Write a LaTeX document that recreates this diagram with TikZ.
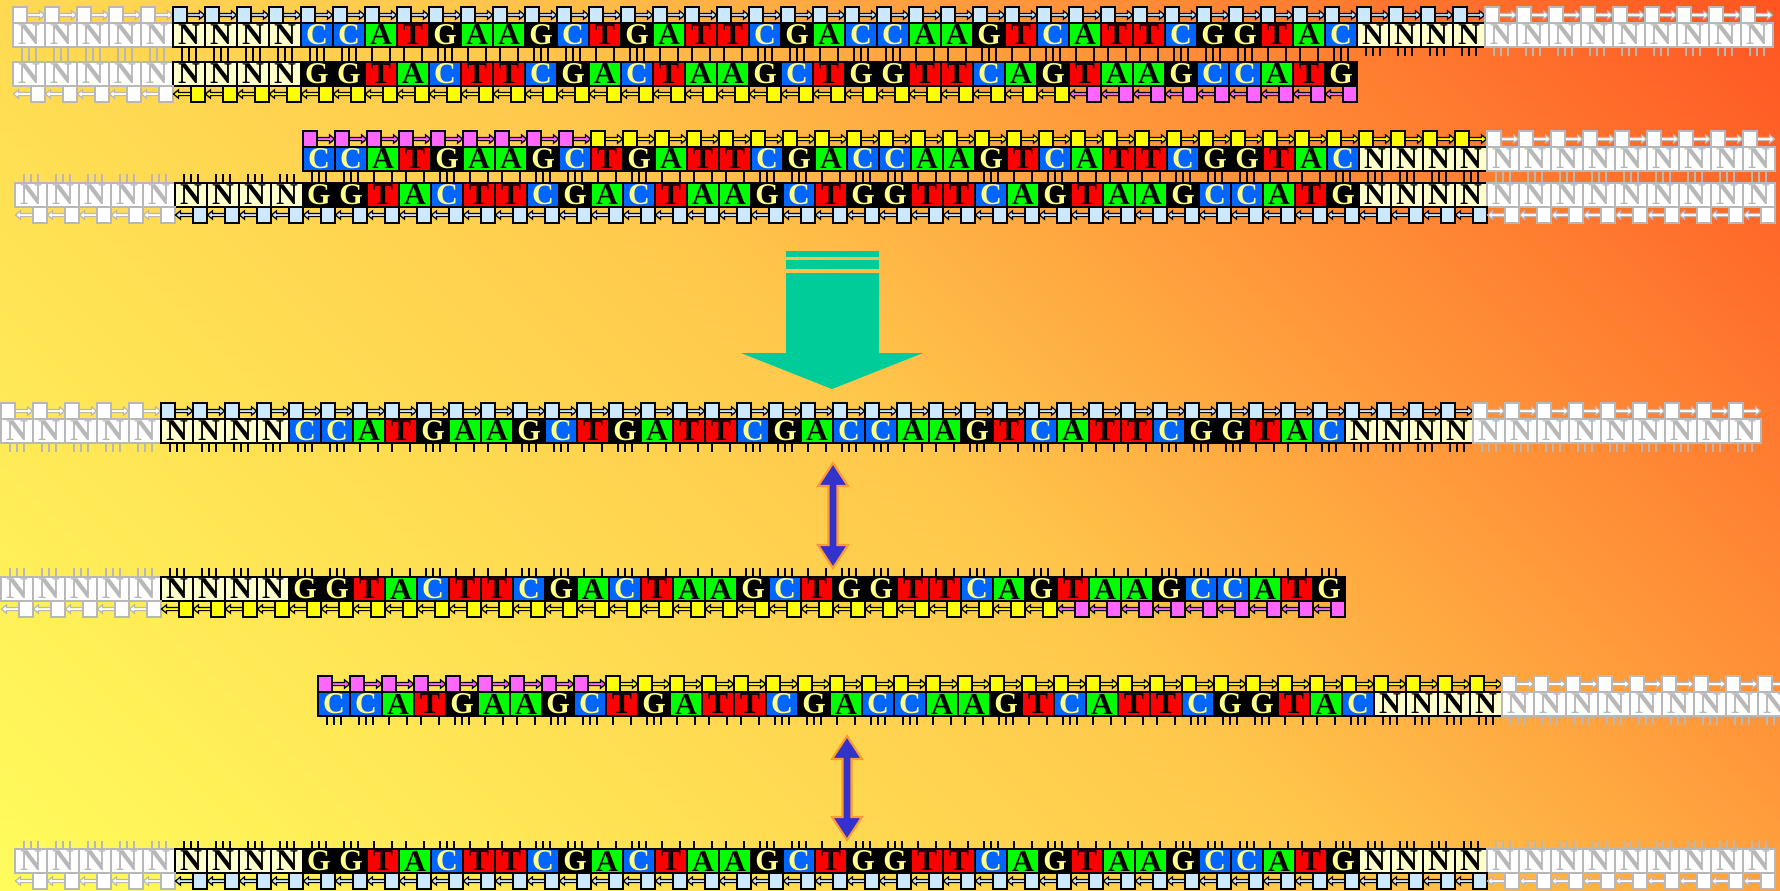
\documentclass[tikz,border=0pt]{standalone}
\usepackage{fontspec}
\setmainfont{Liberation Serif}
\usetikzlibrary{calc}

% Farben
\definecolor{bgY}{RGB}{255,252,92}
\definecolor{bgM}{RGB}{255,200,76}
\definecolor{bgR}{RGB}{255,85,34}
\definecolor{fillA}{RGB}{0,255,0}     \definecolor{inkA}{RGB}{0,0,0}       \definecolor{lineA}{RGB}{0,0,0}
\definecolor{fillT}{RGB}{255,0,0}     \definecolor{inkT}{RGB}{0,0,0}       \definecolor{lineT}{RGB}{0,0,0}
\definecolor{fillC}{RGB}{0,102,255}   \definecolor{inkC}{RGB}{255,255,136} \definecolor{lineC}{RGB}{0,0,0}
\definecolor{fillG}{RGB}{0,0,0}       \definecolor{inkG}{RGB}{255,255,136} \definecolor{lineG}{RGB}{0,0,0}
\definecolor{fillN}{RGB}{255,255,204} \definecolor{inkN}{RGB}{0,0,0}       \definecolor{lineN}{RGB}{0,0,0}
\definecolor{fillx}{RGB}{255,255,255} \definecolor{inkx}{RGB}{184,184,184} \definecolor{linex}{RGB}{184,184,184}
\definecolor{bbBlue}{RGB}{204,232,255}
\definecolor{bbYel}{RGB}{255,255,0}
\definecolor{bbPink}{RGB}{255,102,255}
\definecolor{arrTeal}{RGB}{0,204,153}
\definecolor{arrBlue}{RGB}{51,51,204}
\definecolor{arrRim}{RGB}{255,153,51}

\pgfdeclarehorizontalshading{bgdiag}{100bp}{color(0bp)=(bgY); color(14.64bp)=(bgY); color(50bp)=(bgM); color(85.36bp)=(bgR); color(100bp)=(bgR)}

\tikzset{
  cell/.style={draw=line#1, fill=fill#1, text=ink#1, line width=0.6pt,
    minimum width=3.2mm, minimum height=2.4mm, inner sep=0pt, outer sep=0pt,
    font=\bfseries\fontsize{8.6}{9}\selectfont},
  bbbox/.style={line width=0.5pt},
  bbarrow/.style={line width=0.35pt},
  bb blue/.style={fill=bbBlue, draw=black},
  bb yel/.style={fill=bbYel, draw=black},
  bb pink/.style={fill=bbPink, draw=black},
  bb ghost/.style={fill=white, draw=linex},
  hbond/.style={line width=0.6pt},
  dblarr/.style={fill=arrBlue, draw=arrRim, line width=0.6pt},
  bigarr/.style={fill=arrTeal},
}

\begin{document}
\begin{tikzpicture}[x=0.1mm,y=-0.1mm]

% ---------- Parameter ----------
\def\cw{32}   % Zellbreite
\def\ch{24}   % Zellhoehe

\def\seqTop{C,C,A,T,G,A,A,G,C,T,G,A,T,T,C,G,A,C,C,A,A,G,T,C,A,T,T,C,G,G,T,A,C}
\def\seqBot{G,G,T,A,C,T,T,C,G,A,C,T,A,A,G,C,T,G,G,T,T,C,A,G,T,A,A,G,C,C,A,T,G}
\def\ghostL{x,x,x,x,x}
\def\ghostR{x,x,x,x,x,x,x,x,x}
\edef\fullTop{\ghostL,N,N,N,N,\seqTop,N,N,N,N,\ghostR}
\edef\fullBot{\ghostL,N,N,N,N,\seqBot,N,N,N,N,\ghostR}
\edef\cutBot{\ghostL,N,N,N,N,\seqBot}
\edef\primed{\seqTop,N,N,N,N,\ghostR}
\edef\leftBot{\ghostL,N,N,N,N}
\edef\rightTop{N,N,N,N,\ghostR}

% Wasserstoffbruecken: Positionen in der Zelle
\def\hbA{7,25} \def\hbT{7,25}
\def\hbC{9,16,23} \def\hbG{9,16,23} \def\hbN{9,16,23} \def\hbx{9,16,23}

% ---------- Makros ----------
\def\strand#1#2#3#4#5{% Name, x0, Oberkante, erster Index, Liste
  \foreach \nt [count=\i from #4] in #5
    \node[cell=\nt] (#1-\i) at ({#2+(\i+0.5)*\cw},{#3+\ch/2}) {\if x\nt N\else\nt\fi};
}
\def\hbpair#1#2#3#4{% oben, unten, erster Index, Liste
  \foreach \nt [count=\i from #3] in #4 {
    \edef\tpos{\csname hb\nt\endcsname}
    \foreach \tk in \tpos
      \draw[hbond, draw=line\nt] ($(#1-\i.south west)+(\tk,0)$) -- ($(#2-\i.north west)+(\tk,0)$);
  }
}
\def\hbend#1#2#3#4#5{% Reihe, erster Index, Liste, Anker, Laenge
  \foreach \nt [count=\i from #2] in #3 {
    \edef\tpos{\csname hb\nt\endcsname}
    \foreach \tk in \tpos
      \draw[hbond, draw=line\nt] ($(#1-\i.#4)+(\tk,0)$) -- ++(0,#5);
  }
}
\def\fwdbb#1#2#3#4{% Rueckgrat 5'->3'
  \foreach \i in {#2,...,#3} {
    \filldraw[bbarrow, #4] ($(#1-\i.north west)+(14,-8)$) ++(0,-1.6) -- ++(12.5,0) -- ++(0,-2.6)
      -- ++(5,4.2) -- ++(-5,4.2) -- ++(0,-2.6) -- ++(-12.5,0) -- cycle;
    \filldraw[bbbox, #4] (#1-\i.north west) rectangle ++(14,-16);
  }
}
\def\revbb#1#2#3#4{% Rueckgrat 3'<-5'
  \foreach \i in {#2,...,#3} {
    \filldraw[bbarrow, #4] ($(#1-\i.south east)+(-14,8)$) ++(0,-1.6) -- ++(-12.5,0) -- ++(0,-2.6)
      -- ++(-5,4.2) -- ++(5,4.2) -- ++(0,-2.6) -- ++(12.5,0) -- cycle;
    \filldraw[bbbox, #4] (#1-\i.south east) rectangle ++(-14,16);
  }
}
\def\dblarrow#1#2{%
  \filldraw[dblarr] (#1) -- ++(15,23) -- ++(-10.5,0) -- ($(#2)+(4.5,-23)$) -- ++(10.5,0)
    -- (#2) -- ++(-15,-23) -- ++(10.5,0) -- ($(#1)+(-4.5,23)$) -- ++(-10.5,0) -- cycle;
}

% Hintergrund
\useasboundingbox (0,0) rectangle (1780,890);
\clip (0,0) rectangle (1780,890);
\shade[shading=bgdiag, shading angle=45] (0,0) rectangle (1780,890);

% ===================
% oben: Doppelstrang 1
% ===================
\strand{r1}{13}{23}{0}{\fullTop}
\strand{r2}{13}{62}{0}{\cutBot}
\hbpair{r1}{r2}{0}{\cutBot}
\hbend{r1}{42}{\rightTop}{south west}{9}
\fwdbb{r1}{0}{4}{bb ghost}
\fwdbb{r1}{5}{45}{bb blue}
\fwdbb{r1}{46}{54}{bb ghost}
\revbb{r2}{0}{4}{bb ghost}
\revbb{r2}{5}{32}{bb yel}
\revbb{r2}{33}{41}{bb pink}

% ===================
% Doppelstrang 2
% ===================
\strand{r3}{15}{147}{9}{\primed}
\strand{r4}{15}{183}{0}{\fullBot}
\hbpair{r3}{r4}{9}{\primed}
\hbend{r4}{0}{\leftBot}{north west}{-9}
\fwdbb{r3}{9}{17}{bb pink}
\fwdbb{r3}{18}{45}{bb yel}
\fwdbb{r3}{46}{54}{bb ghost}
\revbb{r4}{0}{4}{bb ghost}
\revbb{r4}{5}{45}{bb blue}
\revbb{r4}{46}{54}{bb ghost}

% Pfeil nach unten
\fill[bigarr] (786,251) rectangle (879,257);
\fill[bigarr] (786,260) rectangle (879,269);
\fill[bigarr] (786,273) -- (879,273) -- (879,353) -- (923,353) -- (832,389)
  -- (741,353) -- (786,353) -- cycle;

% ===================
% Einzelstraenge
% ===================
\strand{r5}{1}{419}{0}{\fullTop}
\hbend{r5}{0}{\fullTop}{south west}{9}
\fwdbb{r5}{0}{4}{bb ghost}
\fwdbb{r5}{5}{45}{bb blue}
\fwdbb{r5}{46}{54}{bb ghost}

\strand{r6}{1}{577}{0}{\cutBot}
\hbend{r6}{0}{\cutBot}{north west}{-9}
\revbb{r6}{0}{4}{bb ghost}
\revbb{r6}{5}{32}{bb yel}
\revbb{r6}{33}{41}{bb pink}

\strand{r7}{30}{692}{9}{\primed}
\hbend{r7}{9}{\primed}{south west}{9}
\fwdbb{r7}{9}{17}{bb pink}
\fwdbb{r7}{18}{45}{bb yel}
\fwdbb{r7}{46}{54}{bb ghost}

\strand{r8}{15}{849}{0}{\fullBot}
\hbend{r8}{0}{\fullBot}{north west}{-8}
\revbb{r8}{0}{4}{bb ghost}
\revbb{r8}{5}{45}{bb blue}
\revbb{r8}{46}{54}{bb ghost}

% Doppelpfeile
\coordinate (pfeil1u) at ($(r6-26.north west)+(0,-9)$);
\coordinate (pfeil1o) at ($(pfeil1u |- r5-26.south)+(0,20)$);
\dblarrow{pfeil1o}{pfeil1u}
\coordinate (pfeil2u) at ($(r8-26.north west)+(0,-9)$);
\coordinate (pfeil2o) at ($(pfeil2u |- r7-25.south)+(0,20)$);
\dblarrow{pfeil2o}{pfeil2u}

\end{tikzpicture}
\end{document}
